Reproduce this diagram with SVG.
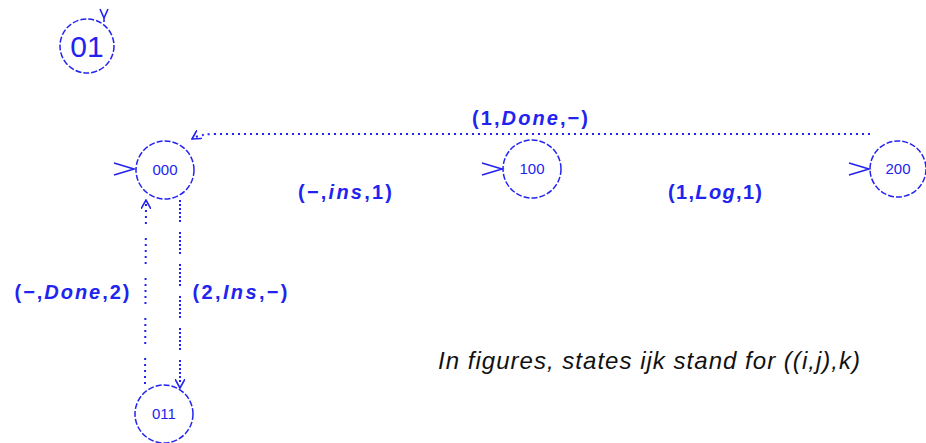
<svg xmlns="http://www.w3.org/2000/svg" width="926" height="443" viewBox="0 0 926 443">
<style>
  .node { fill: none; stroke: #2323f0; stroke-width: 1.5; stroke-dasharray: 6 2; }
  .nlabel { font-family: "Liberation Sans", Arial, sans-serif; fill: #2323f0; text-anchor: middle; }
  .init { fill: none; stroke: #2323f0; stroke-width: 1.6; }
  .edge { fill: none; stroke: #2323f0; stroke-width: 2; }
  .elabel { font-family: "Liberation Sans", Arial, sans-serif; font-size: 20px; font-weight: bold; fill: #2323f0; text-anchor: middle; }
  .it { font-style: italic; }
  .caption { font-family: "Liberation Sans", Arial, sans-serif; font-size: 24px; font-style: italic; fill: #111; }
</style>
<defs>
  <marker id="arr" viewBox="0 0 10 10" refX="9" refY="5" markerWidth="10" markerHeight="10" markerUnits="userSpaceOnUse" orient="auto">
    <path d="M0,0 L9,5 L0,10" fill="none" stroke="#2323f0" stroke-width="1.6"/>
  </marker>
</defs>
<rect width="926" height="443" fill="#ffffff"/>

<g id="connectors">
  <path class="edge" d="M870,134 L215,134 Q200,134 192,139" stroke-dasharray="2 4" marker-end="url(#arr)"/>
  <path class="edge" d="M145,384 L146,200" stroke-dasharray="2 4 2 4 2 4 2 4 2 14" marker-end="url(#arr)"/>
  <path class="edge" d="M180,200 L180,388" stroke-dasharray="2 2 2 2 2 2 2 2 2 2 2 10" marker-end="url(#arr)"/>
  <text class="elabel" x="530" y="125" textLength="116" lengthAdjust="spacing">(1,<tspan class="it">Done</tspan>,−)</text>
  <text class="elabel" x="345" y="199" textLength="94" lengthAdjust="spacing">(−,<tspan class="it">ins</tspan>,1)</text>
  <text class="elabel" x="715" y="199" textLength="94" lengthAdjust="spacing">(1,<tspan class="it">Log</tspan>,1)</text>
  <text class="elabel" x="72" y="299" font-weight="normal" textLength="115" lengthAdjust="spacing">(−,<tspan class="it">Done</tspan>,2)</text>
  <text class="elabel" x="240" y="299" font-weight="normal" textLength="95" lengthAdjust="spacing">(2,<tspan class="it">Ins</tspan>,−)</text>
</g>

<g id="node-01">
  <circle class="node" cx="87" cy="46" r="27"/>
  <text class="nlabel" x="87" y="57" font-size="30">01</text>
  <path class="init" d="M100,9 L104,18 L108,9 M104,18 L104,22"/>
</g>

<g id="node-000">
  <circle class="node" cx="165" cy="170" r="29"/>
  <text class="nlabel" x="165" y="175" font-size="15">000</text>
  <path class="init" d="M114,163 L134,169 L114,175"/>
</g>

<g id="node-100">
  <circle class="node" cx="532" cy="169" r="29"/>
  <text class="nlabel" x="532" y="174" font-size="15">100</text>
  <path class="init" d="M482,163 L502,169 L482,175"/>
</g>

<g id="node-200">
  <circle class="node" cx="898" cy="169" r="28"/>
  <text class="nlabel" x="898" y="174" font-size="15">200</text>
  <path class="init" d="M849,163 L869,169 L849,175"/>
</g>

<g id="node-011">
  <circle class="node" cx="164" cy="414" r="29"/>
  <text class="nlabel" x="164" y="419" font-size="15">011</text>
</g>

<text class="caption" x="438" y="369" textLength="422" lengthAdjust="spacing">In figures, states ijk stand for ((i,j),k)</text>
</svg>
